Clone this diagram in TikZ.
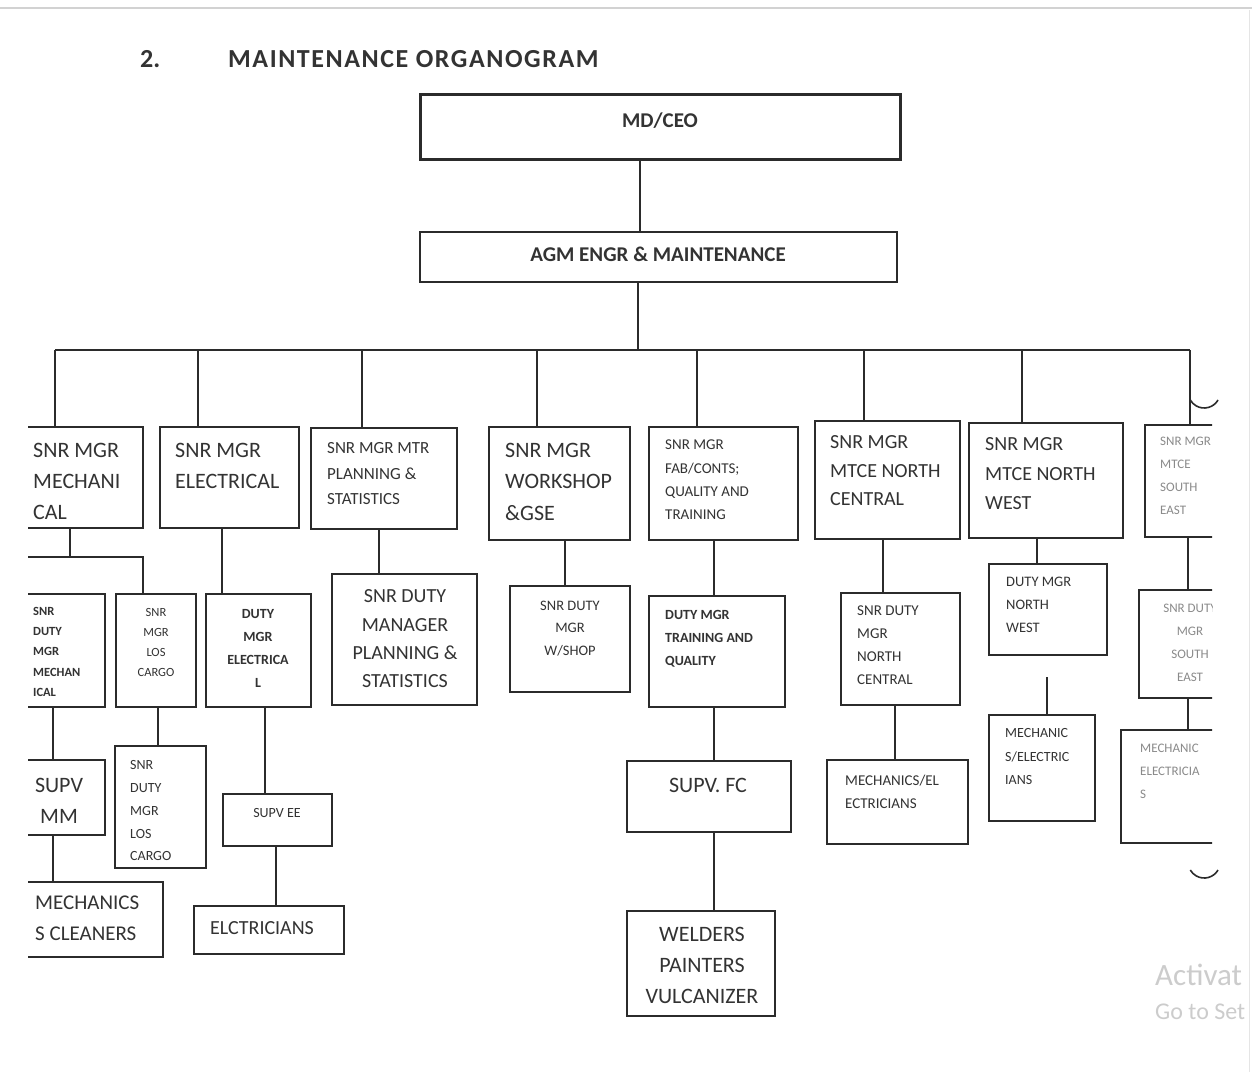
\documentclass[tikz,border=0pt]{standalone}
\usepackage{fontspec}
\setmainfont{Carlito}
\usetikzlibrary{fit}
\definecolor{ln}{HTML}{2B2B2B}
\definecolor{tc}{HTML}{333333}
\definecolor{fade}{HTML}{8A8A8A}
\tikzset{
  box/.style={draw=ln, line width=1.4pt, inner sep=0pt},
  conn/.style={draw=ln, line width=1.4pt},
  txt/.style={text=tc, inner sep=0pt, align=left, anchor=north west},
  ctxt/.style={text=tc, inner sep=0pt, align=center, anchor=north},
}
\newcommand\fsz[2]{\fontsize{#1}{#2}\selectfont}
\begin{document}
\begin{tikzpicture}[x=1pt,y=-1pt]
\useasboundingbox (0,0) rectangle (1252,1072);
\fill[white] (0,0) rectangle (1252,1072);
\draw[gray!35, line width=2pt] (0,8) -- (1252,8);
\draw[gray!20, line width=1pt] (1249,10) -- (1249,1072);

% title
\node[txt, font=\fsz{26}{30}\bfseries] (num) at (140,50) {2.};
\node[txt, font=\fsz{26}{30}\bfseries\addfontfeatures{LetterSpace=6}] (title) at (228,50) {MAINTENANCE ORGANOGRAM};

% top
\node[box, line width=3pt, fit={(420,94) (900,159)}] (ceo) {};
\node[ctxt, font=\fsz{21}{25}\bfseries] (ceoT) at (660,113) {MD/CEO};
\node[box, fit={(420,232) (897,282)}] (agm) {};
\node[ctxt, font=\fsz{21}{25}\bfseries] (agmT) at (658,247) {AGM ENGR \& MAINTENANCE};

\coordinate (xc) at (640,0);
\coordinate (xa) at (638,0);
\coordinate (busL) at (55,350);
\coordinate (busR) at (1190,350);
\draw[conn] (ceo.south -| xc) -- (agm.north -| xc);

\begin{scope}
\clip (28,0) rectangle (1212,1072);
\draw[conn] (agm.south -| xa) -- (xa |- busL);
\draw[conn] (busL) -- (busR);

% level 1
\node[box, fit={(20,427) (143,528)}] (m1) {};
\node[txt, font=\fsz{22}{31}] (m1T) at (33,443) {SNR MGR\\MECHANI\\CAL};
\node[box, fit={(160,427) (299,528)}] (m2) {};
\node[txt, font=\fsz{22}{31}] (m2T) at (175,443) {SNR MGR\\ELECTRICAL};
\node[box, fit={(311,428) (457,529)}] (m3) {};
\node[txt, font=\fsz{17}{25.5}] (m3T) at (327,442.5) {SNR MGR MTR\\PLANNING \&\\STATISTICS};
\node[box, fit={(489,427) (630,540)}] (m4) {};
\node[txt, font=\fsz{22}{31.5}] (m4T) at (505,443) {SNR MGR\\WORKSHOP\\\&GSE};
\node[box, fit={(649,427) (798,540)}] (m5) {};
\node[txt, font=\fsz{15}{23.3}] (m5T) at (665,440) {SNR MGR\\FAB/CONTS;\\QUALITY AND\\TRAINING};
\node[box, fit={(815,421) (960,539)}] (m6) {};
\node[txt, font=\fsz{20}{28.5}] (m6T) at (830,435.5) {SNR MGR\\MTCE NORTH\\CENTRAL};
\node[box, fit={(969,423) (1123,538)}] (m7) {};
\node[txt, font=\fsz{20}{29.5}] (m7T) at (985,437.5) {SNR MGR\\MTCE NORTH\\WEST};
\node[box, fit={(1145,425) (1270,537)}] (m8) {};
\node[txt, text=fade, font=\fsz{13}{23}] (m8T) at (1160,437) {SNR MGR\\MTCE\\SOUTH\\EAST};

\coordinate (x1) at (55,0);
\coordinate (x2) at (198,0);
\coordinate (x3) at (362,0);
\coordinate (x4) at (537,0);
\coordinate (x5) at (697,0);
\coordinate (x6) at (864,0);
\coordinate (x7) at (1022,0);
\coordinate (x8) at (1190,0);
\foreach \i in {1,...,8} {
  \draw[conn] (busL -| x\i) -- (x\i |- m\i.north);
}

% level 2
\node[box, fit={(20,594) (105,707)}] (d1) {};
\node[txt, font=\fsz{12.5}{20.2}\bfseries] (d1T) at (33,607) {SNR\\DUTY\\MGR\\MECHAN\\ICAL};
\node[box, fit={(116,594) (196,707)}] (d2) {};
\node[ctxt, font=\fsz{12.5}{20}] (d2T) at (156,608) {SNR\\MGR\\LOS\\CARGO};
\node[box, fit={(206,594) (311,707)}] (d3) {};
\node[ctxt, font=\fsz{14}{23}\bfseries] (d3T) at (258,609.5) {DUTY\\MGR\\ELECTRICA\\L};
\node[box, fit={(332,574) (477,705)}] (d4) {};
\node[ctxt, font=\fsz{20}{28.3}] (d4T) at (405,589.6) {SNR DUTY\\MANAGER\\PLANNING \&\\STATISTICS};
\node[box, fit={(510,586) (630,692)}] (d5) {};
\node[ctxt, font=\fsz{14.5}{22.5}] (d5T) at (570,600.5) {SNR DUTY\\MGR\\W/SHOP};
\node[box, fit={(649,596) (785,707)}] (d6) {};
\node[txt, font=\fsz{14}{23}\bfseries] (d6T) at (665,610.5) {DUTY MGR\\TRAINING AND\\QUALITY};
\node[box, fit={(841,593) (960,705)}] (d7) {};
\node[txt, font=\fsz{15}{23}] (d7T) at (857,606) {SNR DUTY\\MGR\\NORTH\\CENTRAL};
\node[box, fit={(989,564) (1107,655)}] (d8) {};
\node[txt, font=\fsz{14.5}{23}] (d8T) at (1006,577) {DUTY MGR\\NORTH\\WEST};
\node[box, fit={(1139,590) (1270,698)}] (d9) {};
\node[ctxt, text=fade, font=\fsz{13}{23}] (d9T) at (1190,604) {SNR DUTY\\MGR\\SOUTH\\EAST};

\coordinate (mj) at (70,557);
\coordinate (mjL) at (20,557);
\coordinate (mjR) at (143,557);
\draw[conn] (m1.south -| mj) -- (mj);
\draw[conn] (mjL) -- (mjR) -- (mjR |- d2.north);
\coordinate (y3) at (222,0);
\coordinate (y4) at (379,0);
\coordinate (y5) at (565,0);
\coordinate (y6) at (714,0);
\coordinate (y7) at (883,0);
\coordinate (y8) at (1037,0);
\coordinate (y9) at (1188,0);
\draw[conn] (m2.south -| y3) -- (y3 |- d3.north);
\draw[conn] (m3.south -| y4) -- (y4 |- d4.north);
\draw[conn] (m4.south -| y5) -- (y5 |- d5.north);
\draw[conn] (m5.south -| y6) -- (y6 |- d6.north);
\draw[conn] (m6.south -| y7) -- (y7 |- d7.north);
\draw[conn] (m7.south -| y8) -- (y8 |- d8.north);
\draw[conn] (m8.south -| y9) -- (y9 |- d9.north);

% level 3
\node[box, fit={(20,760) (105,835)}] (e1) {};
\node[ctxt, font=\fsz{22}{31}] (e1T) at (59,778) {SUPV\\MM};
\node[box, fit={(20,882) (163,957)}] (e2) {};
\node[txt, font=\fsz{21}{31}] (e2T) at (35,896) {MECHANICS\\S CLEANERS};
\node[box, fit={(115,746) (206,868)}] (e3) {};
\node[txt, font=\fsz{14}{22.75}] (e3T) at (130,760.5) {SNR\\DUTY\\MGR\\LOS\\CARGO};
\node[box, fit={(223,794) (332,846)}] (e4) {};
\node[ctxt, font=\fsz{14}{20}] (e4T) at (277,808.5) {SUPV EE};
\node[box, fit={(194,906) (344,954)}] (e5) {};
\node[txt, font=\fsz{20}{24}] (e5T) at (210,921.5) {ELCTRICIANS};
\node[box, fit={(627,761) (791,832)}] (e6) {};
\node[ctxt, font=\fsz{22}{28}] (e6T) at (708,778) {SUPV. FC};
\node[box, fit={(627,911) (775,1016)}] (e7) {};
\node[ctxt, font=\fsz{22}{31}] (e7T) at (702,927) {WELDERS\\PAINTERS\\VULCANIZER};
\node[box, fit={(827,760) (968,844)}] (e8) {};
\node[txt, font=\fsz{15}{23}] (e8T) at (845,775) {MECHANICS/EL\\ECTRICIANS};
\node[box, fit={(989,715) (1095,821)}] (e9) {};
\node[txt, font=\fsz{14}{23.5}] (e9T) at (1005,728.5) {MECHANIC\\S/ELECTRIC\\IANS};
\node[box, fit={(1121,730) (1270,843)}] (e10) {};
\node[txt, text=fade, font=\fsz{13}{23}] (e10T) at (1140,744) {MECHANIC\\ELECTRICIA\\S};

\coordinate (z1) at (53,0);
\coordinate (z3) at (158,0);
\coordinate (z4) at (265,0);
\coordinate (z5) at (276,0);
\coordinate (z6) at (714,0);
\coordinate (z8) at (895,0);
\coordinate (nwfree) at (1047,677);
\draw[conn] (d1.south -| z1) -- (z1 |- e1.north);
\draw[conn] (e1.south -| z1) -- (z1 |- e2.north);
\draw[conn] (d2.south -| z3) -- (z3 |- e3.north);
\draw[conn] (d3.south -| z4) -- (z4 |- e4.north);
\draw[conn] (e4.south -| z5) -- (z5 |- e5.north);
\draw[conn] (d6.south -| z6) -- (z6 |- e6.north);
\draw[conn] (e6.south -| z6) -- (z6 |- e7.north);
\draw[conn] (d7.south -| z8) -- (z8 |- e8.north);
\draw[conn] (nwfree) -- (nwfree |- e9.north);
\draw[conn] (d9.south -| y9) -- (y9 |- e10.north);
\end{scope}

% small arcs at right edge
\draw[ln, line width=1.6pt] (1218,400) arc[start angle=30, end angle=150, radius=16];
\draw[ln, line width=1.6pt] (1218,870) arc[start angle=30, end angle=150, radius=16];

% watermark
\node[txt, text=gray!40, font=\fsz{31}{36}] (wm1) at (1155,963.5) {Activat};
\node[txt, text=gray!40, font=\fsz{24}{28}] (wm2) at (1155,1004) {Go to Set};
\end{tikzpicture}
\end{document}
